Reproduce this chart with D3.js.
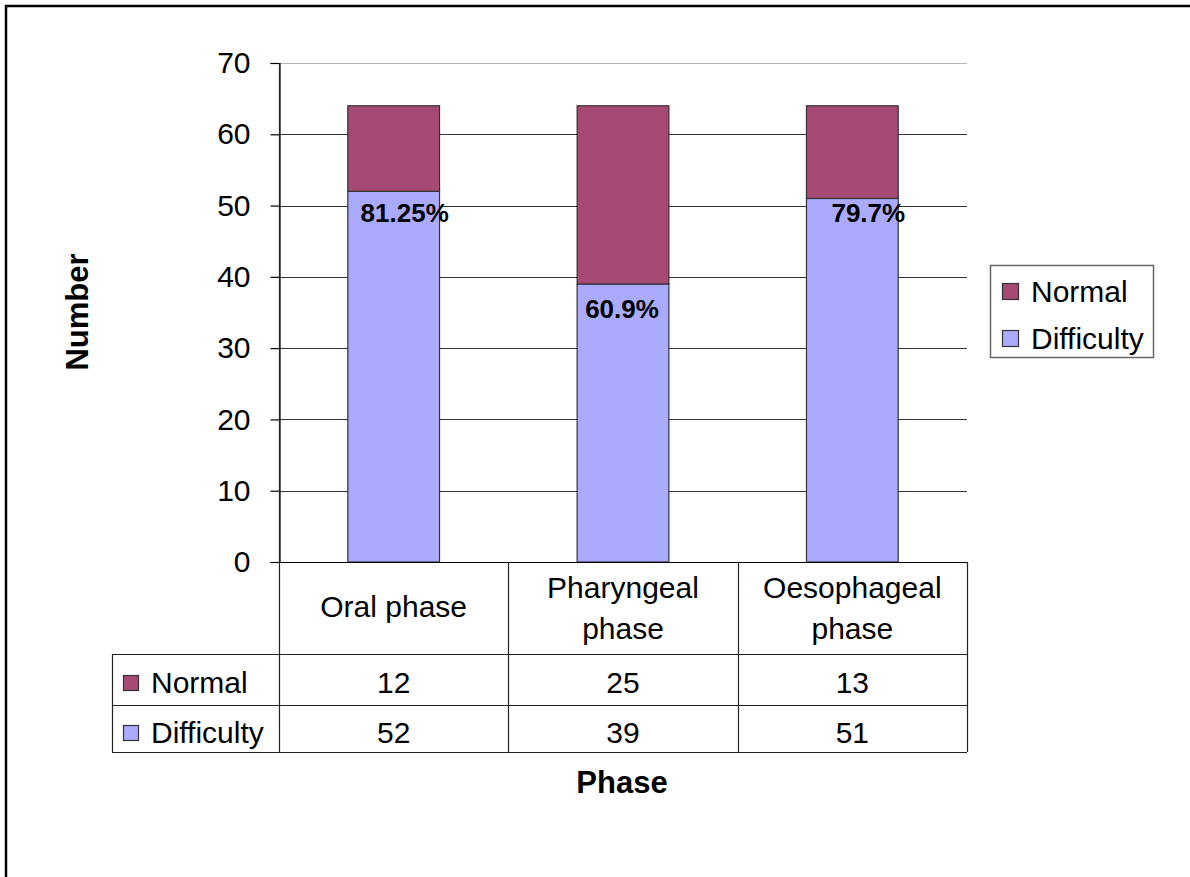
<!DOCTYPE html>
<html>
<head>
<meta charset="utf-8">
<script src="https://cdn.jsdelivr.net/npm/d3@7"></script>
<style>
  html, body { margin: 0; padding: 0; background: #fff; }
  svg { display: block; font-family: "Liberation Sans", Arial, sans-serif; }
</style>
</head>
<body>
<svg id="chart" width="1190" height="877"></svg>
<script>
// Swallowing assessment by phase (counts out of 64 patients)
const phases = ["Oral phase", "Pharyngeal phase", "Oesophageal phase"];
const phaseLines = [["Oral phase"], ["Pharyngeal", "phase"], ["Oesophageal", "phase"]];
const normalCounts = [12, 25, 13];
const difficultyCounts = [52, 39, 51];
const seriesNames = ["Normal", "Difficulty"];
const percentLabels = ["81.25%", "60.9%", "79.7%"];
const yTicks = [0, 10, 20, 30, 40, 50, 60, 70];

// label nudges (dx from bar centre, dy below the stack boundary)
const labelNudge = [[11, 31], [-1, 34], [16, 24]];

const colors = { Normal: "#A64A75", Difficulty: "#AAAAFF" };
const textSize = 30;
const titleSize = 31;

const svg = d3.select("#chart");

// outer frame
svg.append("rect")
  .attr("x", 6).attr("y", 6).attr("width", 1200).attr("height", 900)
  .attr("fill", "none").attr("stroke", "#000").attr("stroke-width", 2.5);

const plot = { left: 279, right: 967, top: 63, bottom: 562 };

const x = d3.scaleBand()
  .domain(phases)
  .range([plot.left, plot.right])
  .paddingInner(0.6)
  .paddingOuter(0.3);

const y = d3.scaleLinear().domain([0, 70]).range([plot.bottom, plot.top]);

// gridlines
svg.append("g").selectAll("line")
  .data(yTicks.filter(t => t > 0))
  .join("line")
  .attr("x1", plot.left).attr("x2", plot.right)
  .attr("y1", d => Math.round(y(d)) + 0.5).attr("y2", d => Math.round(y(d)) + 0.5)
  .attr("stroke", d => d === 70 ? "#b4b4b4" : "#333")
  .attr("stroke-width", 1.2);

// y axis
const yAxis = d3.axisLeft(y).tickValues(yTicks).tickSize(9).tickPadding(20).tickFormat(d3.format("d"));
const ya = svg.append("g")
  .attr("transform", `translate(${plot.left + 0.5},0)`)
  .call(yAxis);
ya.select(".domain").attr("stroke", "#000").attr("stroke-width", 1.2);
ya.selectAll(".tick line").attr("stroke", "#000").attr("stroke-width", 1.2);
ya.selectAll(".tick text")
  .attr("font-size", textSize).attr("fill", "#000")
  .attr("font-family", "Liberation Sans, Arial, sans-serif");

// stacked bars
const stackData = phases.map((p, i) => ({ phase: p, Difficulty: difficultyCounts[i], Normal: normalCounts[i] }));
const stack = d3.stack().keys(["Difficulty", "Normal"])(stackData);

svg.append("g").selectAll("g")
  .data(stack)
  .join("g")
  .attr("fill", d => colors[d.key])
  .selectAll("rect")
  .data(d => d)
  .join("rect")
  .attr("x", d => x(d.data.phase))
  .attr("width", x.bandwidth())
  .attr("y", d => y(d[1]))
  .attr("height", d => y(d[0]) - y(d[1]))
  .attr("stroke", "#333")
  .attr("stroke-width", 1.2);

// percentage labels
svg.append("g").selectAll("text")
  .data(phases)
  .join("text")
  .attr("x", (p, i) => x(p) + x.bandwidth() / 2 + labelNudge[i][0])
  .attr("y", (p, i) => y(difficultyCounts[i]) + labelNudge[i][1])
  .attr("text-anchor", "middle")
  .attr("font-size", 26)
  .attr("font-weight", "bold")
  .attr("fill", "#000")
  .text((p, i) => percentLabels[i]);

// data table under the plot
const rowTop = plot.bottom, headerBottom = 654, row1Bottom = 705, tableBottom = 752, tableLeft = 112;
const tbl = svg.append("g").attr("stroke", "#222").attr("stroke-width", 1.2).attr("fill", "none");
const colEdges = [plot.left, plot.left + (plot.right - plot.left) / 3, plot.left + 2 * (plot.right - plot.left) / 3, plot.right];

// axis baseline / header top
tbl.append("line").attr("x1", plot.left).attr("x2", plot.right).attr("y1", rowTop + 0.5).attr("y2", rowTop + 0.5).attr("stroke", "#000");
// vertical column separators
tbl.selectAll("line.col")
  .data(colEdges)
  .join("line").attr("class", "col")
  .attr("x1", d => Math.round(d) + 0.5).attr("x2", d => Math.round(d) + 0.5)
  .attr("y1", (d, i) => i === 0 ? plot.top : rowTop)
  .attr("y2", tableBottom);
// horizontal row lines
[headerBottom, row1Bottom, tableBottom].forEach(yy => {
  tbl.append("line").attr("x1", tableLeft).attr("x2", plot.right).attr("y1", yy + 0.5).attr("y2", yy + 0.5);
});
tbl.append("line").attr("x1", tableLeft + 0.5).attr("x2", tableLeft + 0.5).attr("y1", headerBottom).attr("y2", tableBottom);

// header category names
const header = svg.append("g").attr("font-size", textSize).attr("fill", "#000").attr("text-anchor", "middle");
phases.forEach((p, i) => {
  const cx = (colEdges[i] + colEdges[i + 1]) / 2;
  const lines = phaseLines[i];
  const baseY = lines.length === 1 ? 617 : 598;
  lines.forEach((ln, j) => {
    header.append("text").attr("x", cx).attr("y", baseY + j * 41).text(ln);
  });
});

// table values
const tableRows = [
  { name: seriesNames[0], values: normalCounts, base: 693 },
  { name: seriesNames[1], values: difficultyCounts, base: 743 }
];
tableRows.forEach(r => {
  svg.append("rect")
    .attr("x", 123.5).attr("y", r.base - 17.5).attr("width", 15).attr("height", 15)
    .attr("fill", colors[r.name]).attr("stroke", "#333").attr("stroke-width", 1.2);
  svg.append("text").attr("x", 151).attr("y", r.base).attr("font-size", textSize).attr("fill", "#000").text(r.name);
  r.values.forEach((v, i) => {
    svg.append("text")
      .attr("x", (colEdges[i] + colEdges[i + 1]) / 2)
      .attr("y", r.base)
      .attr("text-anchor", "middle")
      .attr("font-size", textSize).attr("fill", "#000")
      .text(v);
  });
});

// legend
const lg = svg.append("g");
lg.append("rect").attr("x", 990.5).attr("y", 265.5).attr("width", 163).attr("height", 92)
  .attr("fill", "#fff").attr("stroke", "#666").attr("stroke-width", 1.5);
seriesNames.forEach((n, i) => {
  const base = 302 + i * 47;
  lg.append("rect").attr("x", 1002.5).attr("y", base - 18.5).attr("width", 16).attr("height", 16)
    .attr("fill", colors[n]).attr("stroke", "#333").attr("stroke-width", 1.2);
  lg.append("text").attr("x", 1031).attr("y", base).attr("font-size", textSize).attr("fill", "#000").text(n);
});

// axis titles
svg.append("text")
  .attr("transform", "translate(88,312) rotate(-90)")
  .attr("text-anchor", "middle")
  .attr("font-size", titleSize).attr("font-weight", "bold").attr("fill", "#000")
  .text("Number");

svg.append("text")
  .attr("x", 622).attr("y", 793)
  .attr("text-anchor", "middle")
  .attr("font-size", titleSize).attr("font-weight", "bold").attr("fill", "#000")
  .text("Phase");
</script>
</body>
</html>
